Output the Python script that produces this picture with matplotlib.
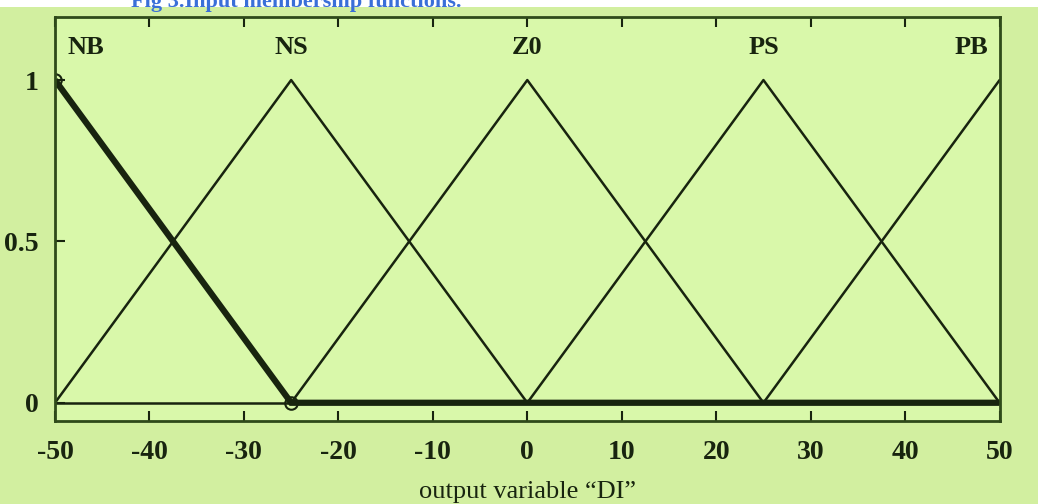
import numpy as np
import matplotlib.pyplot as plt

# membership function names and centres (triangles, half-width 25)
names = ['NB', 'NS', 'Z0', 'PS', 'PB']
centers = [-50, -25, 0, 25, 50]
half_width = 25
label_x = [-46.7, -25, 0, 25, 47.0]
label_y = 1.10

xticks = [-50, -40, -30, -20, -10, 0, 10, 20, 30, 40, 50]
yticks = [0, 0.5, 1]
yticklabels = ['0', '0.5', '1']

# highlighted (selected) output: NB + zero line
sel_x = [-50, -25, 50]
sel_y = [1, 0, 0]
marker_x = [-50, -25]
marker_y = [1, 0]

bg_fig = '#d2efa0'
bg_ax = '#d9f8aa'
ink = '#18240f'

plt.rcParams['font.family'] = ['Liberation Serif', 'DejaVu Serif']
plt.rcParams['axes.unicode_minus'] = False

fig = plt.figure(figsize=(10.38, 5.04), dpi=100, facecolor=bg_fig)
ax = fig.add_axes([0.053, 0.165, 0.910, 0.801])
ax.set_facecolor(bg_ax)

for c in centers:
    xs = [c - half_width, c, c + half_width]
    ys = [0, 1, 0]
    ax.plot(xs, ys, color=ink, lw=1.8)

ax.plot([-50, 50], [0, 0], color=ink, lw=1.8)
ax.plot(sel_x, sel_y, color=ink, lw=4.5, solid_capstyle='butt', solid_joinstyle='miter')
ax.plot(marker_x, marker_y, ls='none', marker='o', ms=9, mfc='none', mec=ink, mew=1.5)

for n, lx in zip(names, label_x):
    ax.text(lx, label_y, n, ha='center', va='center', fontsize=19, fontweight='bold', color=ink)

ax.set_xlim(-50, 50)
ax.set_ylim(-0.056, 1.195)
ax.set_xticks(xticks)
ax.set_yticks(yticks)
ax.set_yticklabels(yticklabels)
ax.tick_params(direction='in', length=7, width=1.5, colors=ink, labelsize=20,
               top=True, right=False)
ax.tick_params(axis='x', pad=14)
ax.tick_params(axis='y', pad=12)
for lab in ax.get_xticklabels() + ax.get_yticklabels():
    lab.set_fontweight('bold')
for s in ax.spines.values():
    s.set_color('#2f4a1a')
    s.set_linewidth(2)

ax.set_xlabel('output variable \u201cDI\u201d', fontsize=19, color=ink, labelpad=11)

# caption strip at top (partly cut off in the original)
fig.patches.append(plt.Rectangle((0, 0.986), 1, 0.014, transform=fig.transFigure,
                                 facecolor='white', edgecolor='none', zorder=0))
fig.text(0.285, 0.997, 'Fig 3.Input membership functions.', ha='center', va='center',
         fontsize=16, fontweight='bold', color='#3a6fd8')

fig.savefig('out.png', dpi=100, facecolor=bg_fig)
